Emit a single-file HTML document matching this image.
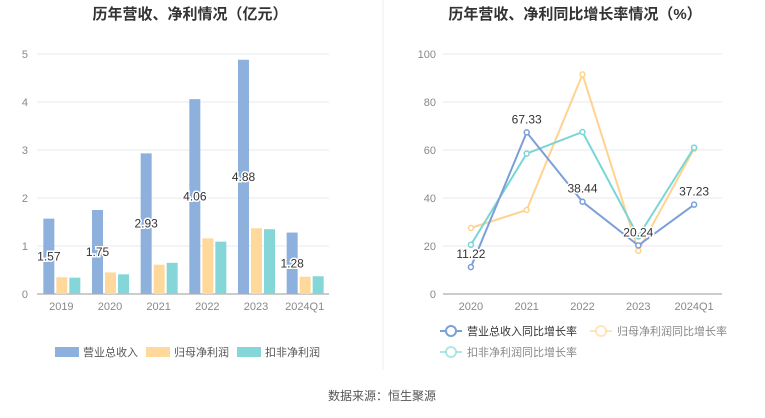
<!DOCTYPE html>
<html><head><meta charset="utf-8"><style>
body{margin:0;background:#fff;font-family:"Liberation Sans","Noto Sans CJK SC",sans-serif;}
svg text{font-family:"Liberation Sans","Noto Sans CJK SC",sans-serif;}
</style></head><body>
<svg id="c" width="765" height="413" xmlns="http://www.w3.org/2000/svg">
<text x="190" y="19" text-anchor="middle" font-size="15" font-weight="bold" fill="#333">历年营收、净利情况（亿元）</text>
<text x="575" y="19" text-anchor="middle" font-size="15" font-weight="bold" fill="#333">历年营收、净利同比增长率情况（%）</text>
<line x1="383" y1="0" x2="383" y2="370" stroke="#eee"/>
<g id="L"></g><g id="R"></g>
<text x="382" y="400" text-anchor="middle" font-size="12" fill="#555">数据来源：恒生聚源</text>
</svg>
<script>
const cats1=["2019","2020","2021","2022","2023","2024Q1"];
const revenue=[1.57,1.75,2.93,4.06,4.88,1.28];
const netProfit=[0.35,0.45,0.61,1.16,1.37,0.36];
const deductProfit=[0.34,0.41,0.65,1.09,1.35,0.37];
const yTicks1=[0,1,2,3,4,5];
const cats2=["2020","2021","2022","2023","2024Q1"];
const revGrowth=[11.22,67.33,38.44,20.24,37.23];
const npGrowth=[27.5,35,91.5,18,60.5];
const dpGrowth=[20.5,58.5,67.5,24,61];
const yTicks2=[0,20,40,60,80,100];
const NS="http://www.w3.org/2000/svg";
function mk(p,t,a,txt){const e=document.createElementNS(NS,t);for(const k in a)e.setAttribute(k,a[k]);if(txt!==undefined)e.textContent=txt;p.appendChild(e);return e;}
const L=document.getElementById('L'),R=document.getElementById('R');
const colors=["#8eb0dd","#ffd99c","#85d6d8"];
const x0=37,x1=329,y0=294,yTop=54;
const yL=v=>y0-(v/5)*(y0-yTop);
const bw=(x1-x0)/cats1.length;
yTicks1.forEach(t=>{
 const g=mk(L,'line',{x1:x0,x2:x1,y1:yL(t),y2:yL(t),stroke:t?'#e6eaf2':'#999'});
 
 const tx=mk(L,'text',{x:28,y:yL(t)+4,'text-anchor':'end','font-size':11,fill:'#888'},t);
 
});
const series1=[revenue,netProfit,deductProfit];
cats1.forEach((c,i)=>{
 const cx=x0+bw*(i+0.5);
 series1.forEach((s,j)=>{
  const bx=cx-18+j*13;
  const r=mk(L,'rect',{x:bx,y:yL(s[i]),width:11,height:y0-yL(s[i]),fill:colors[j]});
  
  
 });
 const t=mk(L,'text',{x:cx-12.5,y:yL(revenue[i]/2)+4,'text-anchor':'middle','font-size':12,fill:'#333',stroke:'#fff','stroke-width':3,'paint-order':'stroke'},revenue[i].toFixed(2));
 
 const xl=mk(L,'text',{x:cx,y:310,'text-anchor':'middle','font-size':11,fill:'#888'},c);
 
});
const leg1=["营业总收入","归母净利润","扣非净利润"];
[55,146,237].forEach((lx,j)=>{
 const r=mk(L,'rect',{x:lx,y:347,width:24,height:10,fill:colors[j]});
 
 const t=mk(L,'text',{x:lx+28,y:356,'font-size':11,fill:'#555'},leg1[j]);
 
});
const rx0=443,rx1=722;
const yR=v=>y0-(v/100)*(y0-yTop);
const bw2=(rx1-rx0)/cats2.length;
const xR=i=>rx0+bw2*(i+0.5);
yTicks2.forEach(t=>{
 const g=mk(R,'line',{x1:rx0,x2:rx1,y1:yR(t),y2:yR(t),stroke:t?'#e6eaf2':'#999'});
 
 const tx=mk(R,'text',{x:436,y:yR(t)+4,'text-anchor':'end','font-size':11,fill:'#888'},t);
 
});
cats2.forEach((c,i)=>{
 const xl=mk(R,'text',{x:xR(i),y:310,'text-anchor':'middle','font-size':11,fill:'#888'},c);
 
});
const lc=["#7b9fd8","#ffd38f","#7ad6d6"];
const names=["revenue-growth","net-profit-growth","deducted-growth"];
[npGrowth,dpGrowth,revGrowth].forEach((s,k)=>{
 const j=[1,2,0][k];
 const p=mk(R,'polyline',{points:s.map((v,i)=>xR(i)+','+yR(v)).join(' '),fill:'none',stroke:lc[j],'stroke-width':2});
 
 s.forEach((v,i)=>{
  const d=mk(R,'circle',{cx:xR(i),cy:yR(v),r:2.5,fill:'#fff',stroke:lc[j],'stroke-width':1.5});
  
 });
});
revGrowth.forEach((v,i)=>{
 const t=mk(R,'text',{x:xR(i),y:yR(v)-9,'text-anchor':'middle','font-size':12,fill:'#333',stroke:'#fff','stroke-width':3,'paint-order':'stroke'},v.toFixed(2));
 
});
const leg2=[["营业总收入同比增长率",440,331],["归母净利润同比增长率",590,331],["扣非净利润同比增长率",440,352]];
leg2.forEach((e,j)=>{
 const l=mk(R,'line',{x1:e[1],x2:e[1]+22,y1:e[2],y2:e[2],stroke:j?lc[j]+'99':lc[j],'stroke-width':2});
 
 const c=mk(R,'circle',{cx:e[1]+11,cy:e[2],r:5,fill:'#fff',stroke:j?lc[j]+'99':lc[j],'stroke-width':2});
 
 const t=mk(R,'text',{x:e[1]+27,y:e[2]+4,'font-size':11,fill:j?'#888':'#333'},e[0]);
 
});
</script>
</body></html>
